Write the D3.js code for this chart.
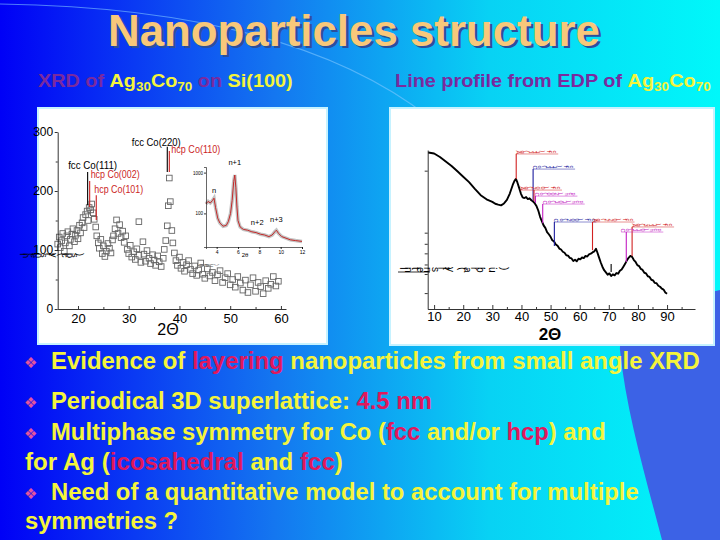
<!DOCTYPE html>
<html>
<head>
<meta charset="utf-8">
<script src="https://d3js.org/d3.v7.min.js"></script>
<style>
  body { margin: 0; background: #fff; }
  svg { display: block; }
</style>
</head>
<body>
<svg id="slide" width="720" height="540"></svg>
<script>
// ---- XRD of Ag30Co70 (left picture) ----
const xrdAngle = [16.0,16.3,16.5,16.8,17.0,17.3,17.5,17.8,18.0,18.3,18.5,18.8,19.0,19.3,19.5,19.8,20.0,20.3,20.5,20.8,
  21.0,21.2,21.5,21.8,22.0,22.2,22.5,22.7,23.0,23.2,23.5,23.7,24.0,24.2,24.5,24.8,25.0,25.3,25.6,25.9,
  26.2,26.5,26.8,27.0,27.3,27.6,27.9,28.2,28.5,28.8,29.1,29.4,29.7,30.0,30.3,30.6,31.0,31.3,31.6,32.0,
  32.0,32.4,32.8,33.0,33.3,33.6,34.0,34.3,34.7,35.0,35.3,35.7,36.0,36.4,36.8,37.0,37.3,37.6,37.8,38.0,
  38.2,38.5,38.7,39.0,39.3,39.6,40.0,40.3,40.7,41.0,41.4,41.8,42.2,42.6,43.0,43.4,43.8,44.2,44.6,45.0,
  45.5,46.0,46.5,47.0,47.5,48.0,48.5,49.0,49.5,50.0,50.5,51.0,51.5,52.0,52.5,53.0,53.5,54.0,54.5,55.0,
  55.5,56.0,56.5,57.0,57.5,58.0,58.5,59.0,59.5];
const xrdCounts = [110,122,104,116,128,98,112,124,131,107,118,127,136,114,125,133,119,142,129,146,
  155,138,160,166,150,172,168,178,163,152,139,124,112,103,118,94,107,89,98,111,
  103,95,117,124,136,151,128,143,121,132,113,124,101,94,108,88,97,84,102,148,
  91,79,114,93,81,99,86,77,92,83,74,90,80,72,86,101,116,141,175,222,
  182,133,112,95,82,74,88,69,79,64,75,82,67,60,73,57,66,78,59,52,
  68,56,62,48,58,65,45,53,60,41,50,37,55,44,32,49,28,41,53,30,
  45,38,26,48,35,42,55,39,47];
const xrdXTicks = [20, 30, 40, 50, 60];
const xrdXMinor = [25, 35, 45, 55];
const xrdYTicks = [0, 100, 200, 300];
const xrdYMinor = [50, 150, 250];
const xrdPeakAngle = [21.9, 22.3, 23.6, 37.6, 38.0];
const xrdPeakTop = [232, 217, 193, 275, 268];
const xrdPeakBottom = [176, 173, 151, 232, 232];
const xrdPeakName = ["fcc Co(111)", "hcp Co(002)", "hcp Co(101)", "fcc Co(220)", "hcp Co(110)"];
const xrdPeakPhase = ["fcc", "hcp", "hcp", "fcc", "hcp"];

// small angle inset
const insetAngle = [3.0,3.2,3.4,3.6,3.75,3.9,4.1,4.3,4.6,4.9,5.1,5.3,5.45,5.6,5.7,5.8,5.9,6.0,6.2,6.5,
  6.9,7.3,7.7,8.1,8.5,8.9,9.2,9.45,9.6,9.8,10.1,10.5,10.9,11.4,12.0];
const insetIntensity = [54,57,55,58,61,49,36,30,26,27,32,42,58,82,90,74,50,33,25,22,
  21,19,18,16,15,13,15,19,21,17,13,11,9,8,7];
const insetXTicks = [4, 6, 8, 10, 12];
const insetYTicks = [42, 93];
const insetYLabels = ["100", "1000"];
const insetOrderAngle = [3.75, 5.7, 7.8, 9.6];
const insetOrderValue = [67, 102, 27, 31];
const insetOrderName = ["n", "n+1", "n+2", "n+3"];

// ---- line profile from EDP (right picture) ----
const edpAngle = [8,10,12,14,16,18,20,22,24,26,28,30,31,32,33,34,35,36,37,37.6,
  38.1,38.6,39.2,39.8,40.4,41.0,41.6,42.2,42.8,43.4,44.0,44.6,45.2,45.8,46.4,47.0,47.6,48.2,48.8,49.4,
  50.0,50.6,51.2,51.8,52.4,53.0,53.6,54.2,54.8,55.4,56.0,56.6,57.2,57.8,58.4,59.0,59.6,60.2,60.8,61.4,
  62.0,62.6,63.2,63.8,64.4,65.0,65.6,66.1,66.6,67.2,67.8,68.4,69.0,69.6,70.2,70.8,71.4,72.0,72.6,73.2,
  73.8,74.4,75.0,75.6,76.2,76.8,77.4,78.0,78.6,79.2,79.8,80.4,81.0,81.6,82.2,82.8,83.4,84.0,84.6,85.2,
  85.8,86.4,87.0,87.6,88.2,88.8,89.4,90.0];
const edpIntensity = [98.4,97.8,95.6,92.8,89.9,86.6,83.2,79.8,75.6,71.6,69.0,67.4,66.2,65.6,65.2,66.4,68.6,72.6,78.0,80.6,
  81.8,79.6,76.2,72.6,70.2,69.8,70.4,69.1,69.6,68.4,67.6,66.4,64.6,61.8,58.0,55.2,52.6,51.0,48.4,47.0,
  45.4,43.2,42.4,40.6,39.8,38.0,37.4,36.0,35.4,33.8,33.6,32.2,31.8,30.2,31.0,30.0,31.6,31.2,32.4,32.0,
  33.4,33.0,34.4,34.8,35.6,36.2,37.9,35.4,32.6,29.4,26.6,24.4,23.0,21.6,22.4,20.8,21.8,21.2,22.6,22.2,
  24.0,24.8,26.6,28.4,30.6,32.2,33.4,32.8,30.8,29.6,27.6,27.0,25.2,24.6,22.8,22.4,20.6,20.2,18.4,18.0,
  16.4,16.2,14.6,14.0,12.8,12.2,10.4,9.6];
const edpXTicks = [10, 20, 30, 40, 50, 60, 70, 80, 90];
const edpXMinor = [15, 25, 35, 45, 55, 65, 75, 85, 95];
const edpYTicks = [10, 22, 28, 35, 41, 48, 87];
const edpMarkAngle = [38.2, 44.0, 44.3, 44.8, 47.3, 51.3, 64.4, 78.0, 76.0, 70.8];
const edpMarkTop = [97.5, 88, 74.8, 71, 66, 54.7, 54.7, 51.6, 48.4, 28.3];
const edpMarkBottom = [81.8, 68, 68, 66.7, 54, 39.6, 37, 33.3, 29.6, 23.3];
const edpMarkName = ["Ag(111) fcc", "Co(111) fcc", "Ag(200) fcc", "Co(002) hcp", "Co(101) hcp",
  "Co(200) fcc", "Ag(220) fcc", "Ag(311) fcc", "Co(110) hcp", ""];
const edpMarkKind = ["ag", "co", "ag", "hcp", "hcp", "co", "ag", "ag", "hcp", "none"];

// ---- slide text ----
const titleText = "Nanoparticles structure";
const leftCaption = [["XRD of ", "p"], ["Ag", "y"], ["30", "ys"], ["Co", "y"], ["70", "ys"], [" on ", "p"], ["Si(100)", "y"]];
const rightCaption = [["Line profile from EDP of ", "p"], ["Ag", "y"], ["30", "ys"], ["Co", "y"], ["70", "ys"]];
const bulletLines = [
  [["Evidence of ", "y"], ["layering", "r"], [" nanoparticles from small angle XRD", "y"]],
  [["Periodical 3D superlattice: ", "y"], ["4.5 nm", "r"]],
  [["Multiphase symmetry for Co (", "y"], ["fcc", "r"], [" and/or ", "y"], ["hcp", "r"], [") and", "y"]],
  [["for Ag (", "y"], ["icosahedral", "r"], [" and ", "y"], ["fcc", "r"], [")", "y"]],
  [["Need of a quantitative model to account for multiple", "y"]],
  [["symmetries ?", "y"]]
];
const bulletMark = [true, true, true, false, true, false];

// ------------------------------------------------------------------
const svg = d3.select("#slide");
const sans = "'Liberation Sans', Arial, sans-serif";
const narrow = "'Liberation Sans Narrow', 'Arial Narrow', 'Liberation Sans', Arial, sans-serif";
const textColor = { p: "#7a2a9e", y: "#f4f43c", ys: "#f4f43c", r: "#e0185c" };

function stretchTo(sel, x0, x1) {
  const w = sel.node().getBBox().width;
  const k = (x1 - x0) / w;
  sel.attr("transform", `translate(${x0},0) scale(${k},1) translate(${-x0},0)`);
}

function runs(sel, parts, size) {
  parts.forEach(([t, c], i) => {
    const prevSub = i > 0 && parts[i - 1][1] === "ys";
    const ts = sel.append("tspan").text(t).attr("fill", textColor[c]);
    if (c === "ys") ts.attr("font-size", size * 0.68).attr("dy", size * 0.22);
    else if (prevSub) ts.attr("dy", -size * 0.22);
  });
}

// background
const grad = svg.append("defs").append("linearGradient").attr("id", "bg")
  .attr("x1", 0).attr("x2", 1).attr("y1", 0).attr("y2", 0);
[[0, "#0000f6"], [0.38, "#1476f0"], [0.68, "#08d2f4"], [1, "#00f8fa"]]
  .forEach(([o, c]) => grad.append("stop").attr("offset", o).attr("stop-color", c));
svg.append("rect").attr("width", 720).attr("height", 540).attr("fill", "url(#bg)");
svg.append("path")
  .attr("d", "M720,290 C650,305 618,330 620,350 C626,410 645,475 662,540 L720,540 Z")
  .attr("fill", "#3c62e6");
svg.append("path").attr("d", "M0,4 Q290,8 430,118")
  .attr("fill", "none").attr("stroke", "#80c8ff").attr("stroke-width", 1.2).attr("opacity", 0.6);

// title
[["#2c4f9c", 2.5], ["#f8c87a", 0]].forEach(([c, off]) => {
  const t = svg.append("text").attr("x", 108 + off).attr("y", 46 + off)
    .attr("font-family", sans).attr("font-weight", "bold").attr("font-size", 44)
    .attr("fill", c).text(titleText);
  stretchTo(t, 108 + off, 600 + off);
});

// captions
[[leftCaption, 38, 292], [rightCaption, 395, 710]].forEach(([parts, x0, x1]) => {
  const t = svg.append("text").attr("x", x0).attr("y", 87)
    .attr("font-family", sans).attr("font-weight", "bold").attr("font-size", 19);
  runs(t, parts, 19);
  stretchTo(t, x0, x1);
});

// picture panels
svg.append("rect").attr("x", 38).attr("y", 108).attr("width", 289).attr("height", 236)
  .attr("fill", "#fff").attr("stroke", "#c6f2ff").attr("stroke-width", 2);
svg.append("rect").attr("x", 390).attr("y", 108).attr("width", 324).attr("height", 237)
  .attr("fill", "#fff").attr("stroke", "#c6f2ff").attr("stroke-width", 2);

function styleAxis(g, size, family) {
  g.selectAll("path, line").attr("stroke", "#000").attr("stroke-width", 0.8);
  g.selectAll("text").attr("font-family", family).attr("font-size", size).attr("fill", "#000");
}

// ---- left: XRD scatter ----
const xL = d3.scaleLinear().domain([16, 61]).range([57.7, 286]);
const yL = d3.scaleLinear().domain([0, 300]).range([309, 132]);
const gL = svg.append("g");

gL.selectAll("rect.pt").data(xrdAngle).join("rect").attr("class", "pt")
  .attr("x", d => xL(d) - 2.8).attr("y", (d, i) => yL(xrdCounts[i]) - 2.8)
  .attr("width", 5.6).attr("height", 5.6)
  .attr("fill", "none").attr("stroke", "#666").attr("stroke-width", 0.9);

const axLx = gL.append("g").attr("transform", "translate(0,309)")
  .call(d3.axisBottom(xL).tickValues(xrdXTicks).tickSizeInner(-3).tickSizeOuter(0).tickPadding(5));
styleAxis(axLx, 13, sans);
const axLxm = gL.append("g").attr("transform", "translate(0,309)")
  .call(d3.axisBottom(xL).tickValues(xrdXMinor).tickSize(-2).tickFormat(""));
axLxm.select(".domain").remove();
styleAxis(axLxm, 1, sans);

const axLy = gL.append("g").attr("transform", "translate(57.7,0)")
  .call(d3.axisLeft(yL).tickValues(xrdYTicks).tickSizeInner(3).tickSizeOuter(0).tickPadding(1.5));
styleAxis(axLy, 12, narrow);
const axLym = gL.append("g").attr("transform", "translate(57.7,0)")
  .call(d3.axisLeft(yL).tickValues(xrdYMinor).tickSize(2).tickFormat(""));
axLym.select(".domain").remove();
styleAxis(axLym, 1, sans);

gL.append("text").attr("x", 168).attr("y", 335).attr("text-anchor", "middle")
  .attr("font-family", sans).attr("font-size", 16).text("2Θ");

// garbled (rotated glyph) axis title
gL.append("text").attr("x", 20).attr("y", 253).attr("rotate", 90)
  .attr("font-family", sans).attr("font-size", 9).attr("textLength", 60)
  .attr("fill", "#000").text("Intensity (cps)");

// peak markers
const peakColor = { fcc: "#000", hcp: "#cc1f1f" };
const peakLabelAnchor = ["middle", "start", "start", "middle", "start"];
const peakLabelDx = [5, 1, -2, -11, 2];
const peakLabelDy = [-3, -3, -2, -1, 2];
xrdPeakAngle.forEach((a, i) => {
  const c = peakColor[xrdPeakPhase[i]];
  gL.append("line").attr("x1", xL(a)).attr("x2", xL(a))
    .attr("y1", yL(xrdPeakTop[i])).attr("y2", yL(xrdPeakBottom[i]))
    .attr("stroke", c).attr("stroke-width", 1.1);
  gL.append("text").attr("x", xL(a) + peakLabelDx[i]).attr("y", yL(xrdPeakTop[i]) + peakLabelDy[i])
    .attr("text-anchor", peakLabelAnchor[i]).attr("font-family", narrow).attr("font-size", 11)
    .attr("textLength", 49).attr("lengthAdjust", "spacingAndGlyphs")
    .attr("fill", c).text(xrdPeakName[i]);
});

// inset (small angle)
const xI = d3.scaleLinear().domain([3, 12]).range([206, 302]);
const yI = d3.scaleLinear().domain([0, 100]).range([247, 167]);
const gI = svg.append("g");
const lineI = d3.line().x((d, i) => xI(d)).y((d, i) => yI(insetIntensity[i]));
gI.append("path").attr("d", lineI(insetAngle)).attr("fill", "none")
  .attr("stroke", "#b4b4b4").attr("stroke-width", 3.5).attr("opacity", 0.8);
gI.append("path").attr("d", lineI(insetAngle)).attr("fill", "none")
  .attr("stroke", "#c42828").attr("stroke-width", 1);
const axIx = gI.append("g").attr("transform", "translate(0,247)")
  .call(d3.axisBottom(xI).tickValues(insetXTicks).tickSize(2).tickPadding(1.5));
styleAxis(axIx, 5, sans);
const axIy = gI.append("g").attr("transform", "translate(206,0)")
  .call(d3.axisLeft(yI).tickValues(insetYTicks).tickSize(2).tickPadding(1)
    .tickFormat((d, i) => insetYLabels[i]));
styleAxis(axIy, 4.5, sans);
gI.selectAll("path.domain").attr("stroke-width", 0.6);
gI.append("text").attr("x", 245).attr("y", 257).attr("text-anchor", "middle")
  .attr("font-family", sans).attr("font-size", 6).text("2θ");
insetOrderAngle.forEach((a, i) => {
  gI.append("text").attr("x", xI(a)).attr("y", yI(insetOrderValue[i]))
    .attr("text-anchor", "middle").attr("font-family", sans).attr("font-size", 7.5)
    .text(insetOrderName[i]);
});
gI.append("text").attr("x", 199).attr("y", 264).attr("rotate", 90)
  .attr("font-family", sans).attr("font-size", 5).attr("fill", "#555").text("Int(a.u.)");

// ---- right: EDP line profile ----
const xR = d3.scaleLinear().domain([7.8, 99.6]).range([427.7, 695]);
const yR = d3.scaleLinear().domain([0, 100]).range([309, 150]);
const gR = svg.append("g");

const axRx = gR.append("g").attr("transform", "translate(0,309)")
  .call(d3.axisBottom(xR).tickValues(edpXTicks).tickSizeInner(-4).tickSizeOuter(0).tickPadding(3));
styleAxis(axRx, 13, sans);
const axRxm = gR.append("g").attr("transform", "translate(0,309)")
  .call(d3.axisBottom(xR).tickValues(edpXMinor).tickSize(-2).tickFormat(""));
axRxm.select(".domain").remove();
styleAxis(axRxm, 1, sans);
const axRy = gR.append("g").attr("transform", "translate(427.7,0)")
  .call(d3.axisLeft(yR).tickValues(edpYTicks).tickSize(3).tickSizeOuter(0).tickFormat(""));
styleAxis(axRy, 1, sans);

const lineR = d3.line().x(d => xR(d)).y((d, i) => yR(edpIntensity[i]));
gR.append("path").attr("d", lineR(edpAngle)).attr("fill", "none")
  .attr("stroke", "#000").attr("stroke-width", 1.9).attr("stroke-linejoin", "round");

const markColor = { ag: "#d22222", co: "#1c1c9e", hcp: "#c21ec2", none: "#000" };
const markLabelDx = [0, 0, -14, 0, 0, 0, 0, 0, -5, 0];
edpMarkAngle.forEach((a, i) => {
  const c = markColor[edpMarkKind[i]];
  gR.append("line").attr("x1", xR(a)).attr("x2", xR(a))
    .attr("y1", yR(edpMarkTop[i])).attr("y2", yR(edpMarkBottom[i]))
    .attr("stroke", c).attr("stroke-width", 1.1);
  if (!edpMarkName[i]) return;
  const x0 = xR(a) + markLabelDx[i], y0 = yR(edpMarkTop[i]);
  gR.append("line").attr("x1", x0).attr("x2", x0 + 42).attr("y1", y0).attr("y2", y0)
    .attr("stroke", c).attr("stroke-width", 0.5);
  gR.append("text").attr("x", x0).attr("y", y0 - 3.5).attr("rotate", 90)
    .attr("font-family", sans).attr("font-size", 5.5).attr("textLength", 40)
    .attr("fill", c).text(edpMarkName[i]);
});

gR.append("line").attr("x1", 398).attr("x2", 430).attr("y1", 272).attr("y2", 272)
  .attr("stroke", "#000").attr("stroke-width", 0.8);
gR.append("text").attr("x", 400).attr("y", 267).attr("rotate", 90)
  .attr("font-family", sans).attr("font-size", 10).attr("textLength", 104)
  .attr("fill", "#000").text("Intensity (arb.u.)");

gR.append("text").attr("x", 550).attr("y", 340).attr("text-anchor", "middle")
  .attr("font-family", sans).attr("font-weight", "bold").attr("font-size", 17).text("2Θ");

// ---- bullets ----
const bulletBase = [369, 409, 440, 470, 500, 529];
const bulletX0 = [51, 51, 51, 25, 51, 25];
const bulletX1 = [700, 432, 606, 343, 639, 178];
bulletLines.forEach((parts, i) => {
  if (bulletMark[i]) {
    svg.append("text").attr("x", 24).attr("y", bulletBase[i] - 1)
      .attr("font-family", "'DejaVu Sans', sans-serif").attr("font-size", 15)
      .attr("fill", "#e2559c").text("❖");
  }
  const t = svg.append("text").attr("x", bulletX0[i]).attr("y", bulletBase[i])
    .attr("font-family", sans).attr("font-weight", "bold").attr("font-size", 24);
  runs(t, parts, 24);
  stretchTo(t, bulletX0[i], bulletX1[i]);
});
</script>
</body>
</html>
